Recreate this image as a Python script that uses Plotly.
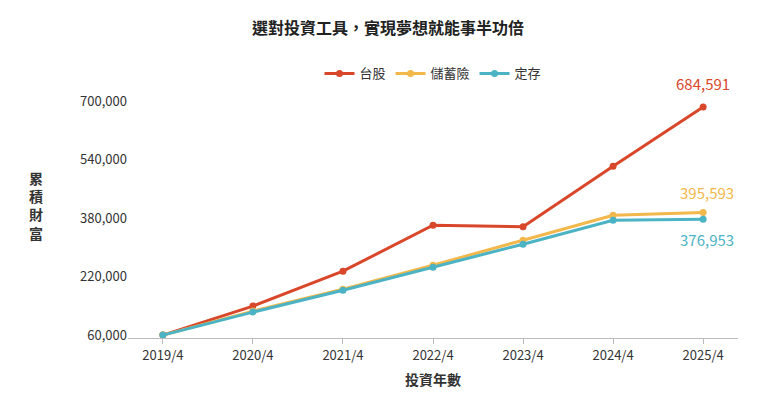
import plotly.graph_objects as go

years = ["2019/4", "2020/4", "2021/4", "2022/4", "2023/4", "2024/4", "2025/4"]
stock = [60000, 139300, 235000, 360900, 356700, 522200, 684591]
insurance = [60000, 125600, 185800, 251500, 319800, 388200, 395593]
deposit = [60000, 122900, 183000, 246000, 308900, 374500, 376953]
y_ticks = [60000, 220000, 380000, 540000, 700000]

font = "Noto Sans CJK TC"
series = [("台股", stock, "#d9472b"), ("儲蓄險", insurance, "#f2b84b"), ("定存", deposit, "#4bb3c3")]

fig = go.Figure()
for name, vals, color in series:
    fig.add_trace(go.Scatter(
        x=years, y=vals, name=name, mode="lines+markers",
        line=dict(color=color, width=3), marker=dict(color=color, size=7),
    ))

# end-value labels
fig.add_annotation(x=years[-1], y=stock[-1], text=f"{stock[-1]:,}", showarrow=False,
                   yshift=24, font=dict(color="#d9472b", size=15, family=font))
fig.add_annotation(x=years[-1], y=insurance[-1], text=f"{insurance[-1]:,}", showarrow=False,
                   yshift=20, xshift=4, font=dict(color="#f2b84b", size=15, family=font))
fig.add_annotation(x=years[-1], y=deposit[-1], text=f"{deposit[-1]:,}", showarrow=False,
                   yshift=-20, xshift=4, font=dict(color="#4bb3c3", size=15, family=font))

fig.update_layout(
    width=760, height=411,
    paper_bgcolor="white", plot_bgcolor="white",
    font=dict(family=font, color="#333", size=13),
    title=dict(text="<b>選對投資工具，實現夢想就能事半功倍</b>", x=0.5, y=0.965,
               font=dict(size=16, color="#222")),
    legend=dict(orientation="h", x=0.5, xanchor="center", y=1.16, font=dict(size=13)),
    margin=dict(l=120, r=30, t=89, b=81),
    xaxis=dict(showgrid=False, showline=True, linecolor="#bbb", ticks="outside",
               tickcolor="#bbb", title=dict(text="<b>投資年數</b>", font=dict(size=14), standoff=12)),
    yaxis=dict(showgrid=False, range=[52000, 712000], tickvals=y_ticks,
               tickformat=",", zeroline=False),
)
fig.add_annotation(text="<b>累<br>積<br>財<br>富</b>", xref="paper", yref="paper",
                   x=-0.165, y=0.55, showarrow=False, font=dict(size=14))

fig.write_html("out.html")
